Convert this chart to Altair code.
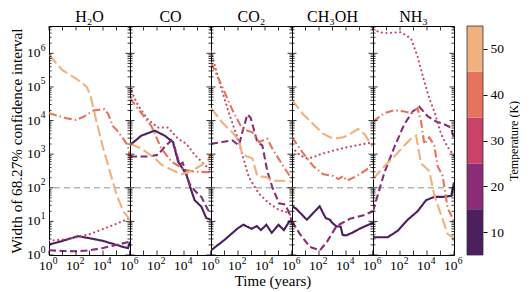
import altair as alt
import pandas as pd

# ---------------- data (log10 time [yr], log10 width) ----------------
molecules = ["H2O", "CO", "CO2", "CH3OH", "NH3"]
titles = ["H₂O", "CO", "CO₂", "CH₃OH", "NH₃"]
temps = [10, 20, 30, 40, 50]
colors = ["#4b1f60", "#8a2c76", "#c8426a", "#e8735d", "#f0b17e"]
dashes = [[1, 0], [7, 3.5], [0.1, 4.5], [8, 3, 1.5, 3], [11, 4]]

h2o_10 = [(0, 0.31), (1, 0.42), (2.15, 0.56), (3, 0.5), (4, 0.42), (5, 0.3), (5.5, 0.24), (5.85, 0.2), (6, 0.39)]
h2o_20 = [(0, 0.14), (1, 0.12), (2, 0.11), (3, 0.14), (4, 0.21), (5, 0.3), (6, 0.4)]
h2o_30 = [(0, 0.43), (1, 0.46), (2, 0.52), (3, 0.62), (4, 0.77), (5, 0.93), (6, 1.1)]
h2o_40 = [(0, 4.22), (1.28, 4.07), (2, 4.02), (2.6, 4.12), (3.3, 4.3), (4.1, 4.34), (4.37, 4.2), (4.74, 3.83),
          (5.1, 3.68), (5.6, 3.4), (5.85, 3.25), (6, 2.85)]
h2o_50 = [(0, 5.95), (1, 5.5), (2, 5.25), (2.8, 5.0), (3.1, 4.7), (3.5, 4.0), (4, 3.2), (4.5, 2.5), (5, 1.8),
          (5.5, 1.3), (6, 1.05)]

co_10 = [(0, 3.27), (0.84, 3.55), (1.83, 3.7), (2.57, 3.55), (3.19, 3.36), (3.56, 2.78), (4.17, 2.4), (4.54, 1.92),
         (4.79, 1.63), (5.28, 1.44), (5.65, 1.1), (6, 1.05)]
co_20 = [(0, 2.93), (1.33, 2.93), (2.07, 2.98), (2.57, 3.22), (3.06, 3.41), (3.3, 3.2), (3.68, 2.69), (3.9, 2.75),
         (4.42, 2.11), (4.79, 1.92), (5.28, 1.73), (5.78, 1.34), (6, 1.25)]
co_30 = [(0, 5.0), (0.3, 4.7), (0.6, 4.45), (1.33, 4.03), (2.07, 3.79), (2.81, 3.79), (3.56, 3.46), (4.17, 3.31),
         (4.79, 2.98), (5.53, 2.69), (6, 2.5)]
co_40 = [(0, 4.66), (0.84, 4.22), (1.58, 3.84), (2.32, 3.17), (3.06, 2.78), (4.05, 2.54), (4.79, 2.48), (6, 2.46)]
co_50 = [(0, 3.31), (0.84, 3.17), (1.83, 2.88), (2.32, 2.69), (3.06, 2.54), (3.8, 2.4), (4.54, 2.5), (5.16, 2.64),
         (5.78, 2.83), (6, 3.03)]

co2_10 = [(0, 0.14), (1, 0.45), (2, 0.8), (2.4, 0.9), (3, 0.78), (3.4, 0.86), (3.7, 0.74), (4.1, 0.9), (4.5, 0.66),
          (5, 0.9), (5.4, 0.74), (5.8, 1.0), (6, 1.02)]
co2_20 = [(0, 3.31), (0.84, 3.36), (1.58, 3.41), (2.07, 3.26), (2.32, 3.65), (2.69, 4.18), (2.94, 4.08), (3.43, 3.36),
          (3.8, 3.26), (4.17, 2.5), (4.54, 2.02), (5.04, 1.54), (5.5, 1.5), (5.9, 1.15), (6, 0.9)]
co2_30 = [(0, 6.05), (0.59, 5.19), (1.33, 4.22), (2.07, 3.36), (2.32, 2.98), (2.81, 2.31), (3.56, 1.82), (4.3, 1.54),
          (5.04, 1.34), (5.78, 1.25), (6, 1.1)]
co2_40 = [(0, 5.72), (0.84, 5.0), (1.58, 4.32), (2.32, 3.75), (3.06, 3.65), (3.56, 3.36), (4.17, 3.46), (4.54, 3.17),
          (5.28, 2.69), (5.9, 2.31), (6, 2.3)]
co2_50 = [(0, 4.37), (0.84, 3.94), (1.58, 3.65), (2.07, 3.41), (2.32, 2.98), (3.06, 2.88), (3.43, 2.35), (4.17, 2.31),
          (4.42, 2.21), (5.28, 2.21), (6, 2.18)]

ch3oh_10 = [(0, 1.45), (0.3, 1.38), (1.1, 1.05), (2.05, 1.45), (2.3, 1.25), (2.5, 1.1), (2.8, 1.05), (3.0, 0.95),
            (3.3, 0.85), (3.6, 0.85), (3.75, 0.6), (4.0, 0.58), (4.5, 0.67), (5.0, 0.78), (6, 0.96)]
ch3oh_20 = [(0, 1.0), (0.59, 0.62), (1.33, 0.24), (2.07, 0.14), (2.6, 0.4), (3.3, 0.86), (4.3, 1.08), (5.3, 1.18),
            (6, 1.3)]
ch3oh_30 = [(0, 3.2), (0.5, 3.0), (1, 2.88), (1.5, 2.9), (2, 2.98), (3, 3.1), (4, 3.2), (5, 3.28), (6, 3.35)]
ch3oh_40 = [(0, 3.5), (0.84, 3.02), (1.58, 2.64), (2.32, 2.4), (3.06, 2.35), (3.43, 2.26), (3.8, 2.35), (4.05, 2.21),
            (4.79, 2.35), (5.53, 2.54), (6, 2.8)]
ch3oh_50 = [(0, 4.61), (0.84, 4.18), (1.58, 3.89), (2.32, 3.6), (3.06, 3.46), (3.8, 3.5), (4.3, 3.6), (4.9, 3.75),
            (5.4, 3.58), (5.9, 3.26), (6, 3.3)]

nh3_10 = [(0, 0.53), (1.09, 0.53), (1.83, 0.72), (2.57, 1.05), (3.3, 1.3), (3.93, 1.63), (4.54, 1.73), (5.16, 1.73),
          (5.8, 1.76), (6, 2.16)]
nh3_20 = [(0, 1.3), (0.84, 2.45), (1.58, 3.21), (2.32, 3.89), (2.94, 4.27), (3.43, 4.41), (4.05, 4.13), (4.67, 3.97),
          (5.28, 3.89), (5.78, 3.79), (6, 3.46)]
nh3_30 = [(0, 6.69), (0.84, 6.6), (2.07, 6.63), (2.81, 6.44), (3.3, 5.91), (3.68, 5.33), (4.17, 4.66), (4.54, 4.27),
          (5.04, 3.6), (5.53, 3.21), (6, 2.95)]
nh3_40 = [(0, 3.97), (0.84, 4.22), (1.58, 4.31), (2.32, 4.27), (2.81, 4.22), (3.3, 4.37), (3.56, 3.97), (3.8, 3.3),
          (4.17, 3.5), (4.54, 3.26), (4.79, 2.64), (5.16, 2.35), (5.53, 1.39), (5.9, 1.1), (6, 0.91)]
nh3_50 = [(0, 2.26), (0.84, 2.64), (1.58, 2.93), (2.32, 3.26), (2.81, 3.46), (3.19, 3.55), (3.56, 2.73), (4.17, 2.5),
          (4.54, 1.78), (5.04, 1.2), (5.53, 0.62), (5.9, 0.53), (6, 0.34)]

series = {
    "H2O": [h2o_10, h2o_20, h2o_30, h2o_40, h2o_50],
    "CO": [co_10, co_20, co_30, co_40, co_50],
    "CO2": [co2_10, co2_20, co2_30, co2_40, co2_50],
    "CH3OH": [ch3oh_10, ch3oh_20, ch3oh_30, ch3oh_40, ch3oh_50],
    "NH3": [nh3_10, nh3_20, nh3_30, nh3_40, nh3_50],
}

threshold = [100]
x_major = [1, 10, 100, 1e3, 1e4, 1e5, 1e6]
y_major = [1, 10, 100, 1e3, 1e4, 1e5, 1e6]
y_minor = [k * 10 ** n for n in range(0, 7) for k in range(2, 10) if k * 10 ** n < 6.5e6]
y_label_exp = [0, 1, 2, 3, 4, 5, 6]
x_label_exp_first = [0, 2, 4, 6]
x_label_exp_other = [2, 4, 6]
sup_digits = ["0", "1", "2", "3", "4", "5", "6"]
cb_range = [5, 55]

# ---------------- layout ----------------
FONT = "Liberation Serif"
W, H = 81, 229
YMAX = 6.5e6
CB_GAP, CB_W = 13, 16
xs = alt.Scale(type="log", domain=[1, 1e6], nice=False)
ys = alt.Scale(type="log", domain=[1, YMAX], nice=False)


def panel(i, mol):
    if i == 2:
        xaxis = alt.Axis(labels=False, ticks=False, domain=False, grid=False,
                         title="Time (years)", titleFont=FONT, titleFontSize=15,
                         titleFontWeight="normal", titlePadding=18, titleColor="black", titleX=W / 2 + 21)
    else:
        xaxis = None
    if i == 0:
        yaxis = alt.Axis(labels=False, ticks=False, domain=False, grid=False,
                         title="Width of 68.27% confidence interval", titleFont=FONT, titleFontSize=15.2,
                         titleFontWeight="normal", titlePadding=25, titleColor="black")
    else:
        yaxis = None

    def X(f):
        return alt.X(f"{f}:Q", scale=xs, axis=xaxis)

    def Y(f):
        return alt.Y(f"{f}:Q", scale=ys, axis=yaxis)

    layers = []
    layers.append(alt.Chart(pd.DataFrame({"w": threshold})).mark_rule(
        color="#b4b4b4", strokeDash=[6, 4], strokeWidth=1.5).encode(y=Y("w")))
    for T, c, d, s in zip(temps, colors, dashes, series[mol]):
        df = pd.DataFrame({"t": [10 ** a for a, b in s], "w": [10 ** b for a, b in s]})
        layers.append(alt.Chart(df).mark_line(
            color=c, strokeDash=d, strokeWidth=2.1, clip=True,
            strokeCap="round" if T == 30 else "butt").encode(x=X("t"), y=Y("w")))
    ymaj = pd.DataFrame({"w": y_major})
    ymin = pd.DataFrame({"w": y_minor})
    xmaj = pd.DataFrame({"t": x_major})
    tick = dict(color="black", strokeWidth=0.8)
    layers += [
        alt.Chart(ymaj).mark_rule(**tick).encode(y=Y("w"), x=alt.value(0), x2=alt.value(4.5)),
        alt.Chart(ymaj).mark_rule(**tick).encode(y=Y("w"), x=alt.value(W - 4.5), x2=alt.value(W)),
        alt.Chart(ymin).mark_rule(**tick).encode(y=Y("w"), x=alt.value(0), x2=alt.value(2.5)),
        alt.Chart(ymin).mark_rule(**tick).encode(y=Y("w"), x=alt.value(W - 2.5), x2=alt.value(W)),
        alt.Chart(xmaj).mark_rule(**tick).encode(x=X("t"), y=alt.value(H - 4.5), y2=alt.value(H)),
        alt.Chart(xmaj).mark_rule(**tick).encode(x=X("t"), y=alt.value(0), y2=alt.value(4.5)),
    ]
    # x tick labels "10" + superscript exponent
    exps = x_label_exp_first if i == 0 else x_label_exp_other
    xl = pd.DataFrame({"t": [10.0 ** e for e in exps], "base": ["10"] * len(exps),
                       "sup": [sup_digits[e] for e in exps]})
    layers += [
        alt.Chart(xl).mark_text(font=FONT, fontSize=13.5, align="right", baseline="top", dx=3.5, color="black")
        .encode(x=X("t"), y=alt.value(H + 3.5), text="base:N"),
        alt.Chart(xl).mark_text(font=FONT, fontSize=9.5, align="left", baseline="top", dx=3.8, color="black")
        .encode(x=X("t"), y=alt.value(H + 1), text="sup:N"),
    ]
    if i == 0:
        yl = pd.DataFrame({"w": [10.0 ** e for e in y_label_exp], "base": ["10"] * len(y_label_exp),
                           "sup": [sup_digits[e] for e in y_label_exp]})
        layers += [
            alt.Chart(yl).mark_text(font=FONT, fontSize=13.5, align="right", baseline="middle", color="black")
            .encode(y=Y("w"), x=alt.value(-8.5), text="base:N"),
            alt.Chart(yl).mark_text(font=FONT, fontSize=9.5, align="left", baseline="middle", dy=-5.5,
                                    color="black")
            .encode(y=Y("w"), x=alt.value(-8.3), text="sup:N"),
        ]
    return alt.layer(*layers).properties(
        width=W, height=H,
        title=alt.TitleParams(titles[i], font=FONT, fontSize=16, fontWeight="normal", offset=1,
                              anchor="middle", color="black"))


panels = [panel(i, m) for i, m in enumerate(molecules)]

cb_scale = alt.Scale(domain=cb_range, nice=False, zero=False)
cb_axis = alt.Axis(orient="right", values=temps, grid=False, domain=False, tickSize=4,
                   tickColor="black", labelFont=FONT, labelFontSize=13.5, labelColor="black",
                   labelPadding=3, title="Temperature (K)", titleFont=FONT, titleFontSize=12,
                   titleFontWeight="normal", titleAngle=270, titleBaseline="top",
                   titlePadding=5, titleColor="black")
cb_df = pd.DataFrame({"T": temps, "lo": [t - 5 for t in temps], "hi": [t + 5 for t in temps]})
cb_bands = alt.Chart(cb_df).mark_rect().encode(
    x=alt.value(CB_GAP), x2=alt.value(CB_GAP + CB_W),
    y=alt.Y("lo:Q", scale=cb_scale, axis=cb_axis),
    y2="hi:Q",
    color=alt.Color("T:O", scale=alt.Scale(domain=temps, range=colors), legend=None),
)
cb_frame = alt.Chart(pd.DataFrame({"lo": [cb_range[0]], "hi": [cb_range[1]]})).mark_rect(
    fill=None, fillOpacity=0, stroke="#333333", strokeWidth=0.8).encode(
    x=alt.value(CB_GAP), x2=alt.value(CB_GAP + CB_W),
    y=alt.Y("lo:Q", scale=cb_scale, axis=cb_axis), y2="hi:Q")
colorbar = alt.layer(cb_bands, cb_frame).properties(
    width=CB_GAP + CB_W, height=H,
    view=alt.ViewBackground(strokeOpacity=0, stroke="transparent"),
    title=alt.TitleParams(" ", fontSize=16, offset=1))

chart = alt.hconcat(*panels, colorbar, spacing=0, bounds="flush").properties(
    padding={"left": 0, "top": 0, "right": 0, "bottom": 0}
).configure(background="white").configure_view(stroke="black", strokeWidth=1)

chart.save("out.html", embed_options={"renderer": "svg", "actions": False})
